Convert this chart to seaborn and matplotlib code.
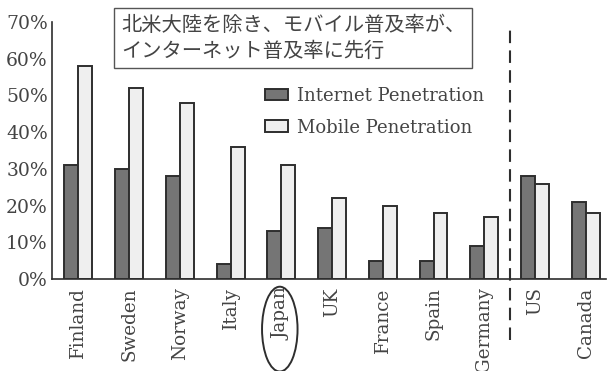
import matplotlib
matplotlib.use("Agg")
import matplotlib.pyplot as plt
from matplotlib.patches import Ellipse
import seaborn as sns
import pandas as pd

countries = ["Finland", "Sweden", "Norway", "Italy", "Japan", "UK",
             "France", "Spain", "Germany", "US", "Canada"]
internet = [31, 30, 28, 4, 13, 14, 5, 5, 9, 28, 21]
mobile = [58, 52, 48, 36, 31, 22, 20, 18, 17, 26, 18]
series_names = ["Internet Penetration", "Mobile Penetration"]
y_ticks = [0, 10, 20, 30, 40, 50, 60, 70]
note = "北米大陸を除き、モバイル普及率が、\nインターネット普及率に先行"

df = pd.DataFrame({
    "country": countries * 2,
    "value": internet + mobile,
    "series": [series_names[0]] * len(countries) + [series_names[1]] * len(countries),
})

sns.set_theme(style="white")
plt.rcParams["font.family"] = ["DejaVu Serif"]
text_color = "#444444"
line_color = "#2e2e2e"

W, H, DPI = 609, 371, 100
fig = plt.figure(figsize=(W / DPI, H / DPI), dpi=DPI, facecolor="white")
ax_left, ax_right, ax_top, ax_bottom = 52, 606, 22, 279
ax = fig.add_axes([ax_left / W, 1 - ax_bottom / H,
                   (ax_right - ax_left) / W, (ax_bottom - ax_top) / H])

sns.barplot(data=df, x="country", y="value", hue="series",
            palette=["#757575", "#efefef"], saturation=1, width=0.55,
            edgecolor=line_color, linewidth=1.4, ax=ax)

ax.set_xlim(-0.52, 10.4)
ax.set_ylim(0, 70)
ax.set_yticks(y_ticks)
ax.set_yticklabels([f"{v}%" for v in y_ticks])
ax.set_xlabel("")
ax.set_ylabel("")

for s in ["top", "right"]:
    ax.spines[s].set_visible(False)
for s in ["left", "bottom"]:
    ax.spines[s].set_color(line_color)
    ax.spines[s].set_linewidth(1.2)

ax.tick_params(axis="y", direction="in", length=4, width=1.1, color=line_color,
               labelsize=13.5, labelcolor=text_color, pad=3)
ax.tick_params(axis="x", which="major", length=0, labelsize=13.2,
               labelcolor=text_color, pad=6)
for lab in ax.get_xticklabels():
    lab.set_rotation(90)
    lab.set_va("top")
    lab.set_ha("center")

# short separators between country groups
ax.set_xticks([i + 0.5 for i in range(len(countries) - 1) if i != 8], minor=True)
ax.tick_params(axis="x", which="minor", direction="in", length=4, width=1.1,
               color=line_color)

# dashed divider between Europe/Japan and North America
ax.plot([8.5, 8.5], [-16.5, 68.5], color=line_color, lw=1.5,
        dashes=(6, 3.5), clip_on=False)

# highlight ring around Japan label
ax.add_patch(Ellipse((3.97, -0.195), width=0.7, height=0.33,
                     transform=ax.get_xaxis_transform(), fill=False,
                     edgecolor=line_color, lw=1.4, clip_on=False))

# annotation box
fig.text(121 / W, 1 - 38 / H, note, fontsize=14.6, color=text_color,
         family=["Noto Sans CJK JP", "DejaVu Sans"], va="center", ha="left",
         linespacing=1.3,
         bbox=dict(boxstyle="square,pad=0.33", fc="white", ec="#555555", lw=1.0))

handles, labels = ax.get_legend_handles_labels()
if ax.get_legend() is not None:
    ax.get_legend().remove()
leg = fig.legend(handles, labels, loc="upper left",
                 bbox_to_anchor=(265 / W, 1 - 87 / H), frameon=False,
                 fontsize=13, handlelength=1.25, handleheight=0.6,
                 handletextpad=0.5, labelspacing=0.75, borderpad=0,
                 borderaxespad=0)
for t in leg.get_texts():
    t.set_color(text_color)

fig.savefig("out.png", dpi=DPI, facecolor="white")
